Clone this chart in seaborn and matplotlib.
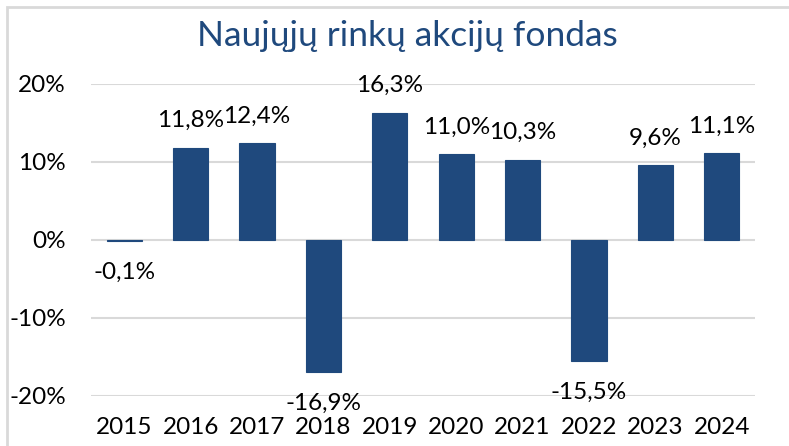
import matplotlib
matplotlib.use("Agg")
import matplotlib.pyplot as plt
from matplotlib.patches import Rectangle
import seaborn as sns
import pandas as pd

years = ['2015', '2016', '2017', '2018', '2019', '2020', '2021', '2022', '2023', '2024']
returns = [-0.1, 11.8, 12.4, -16.9, 16.3, 11.0, 10.3, -15.5, 9.6, 11.1]
y_ticks = [-20, -10, 0, 10, 20]
title = 'Naujųjų rinkų akcijų fondas'

bar_color = '#1F497D'
grid_color = '#D9D9D9'

sns.set_theme(style='white')
plt.rcParams['font.family'] = ['Lato', 'DejaVu Sans']

df = pd.DataFrame({'year': years, 'ret': returns})

fig = plt.figure(figsize=(7.89, 4.46), dpi=100)
ax = fig.add_axes([91/789, 1 - 396/446, (755 - 91)/789, (396 - 84)/446])

sns.barplot(data=df, x='year', y='ret', color=bar_color, saturation=1, width=0.53,
            edgecolor=bar_color, linewidth=0.8, ax=ax, zorder=3)

ax.set_ylim(-20, 20)
ax.set_xlim(-0.5, len(years) - 0.5)
ax.set_yticks(y_ticks)
ax.set_yticklabels([f'{t}%' for t in y_ticks])
for t in y_ticks:
    ax.axhline(t, color=grid_color, lw=1.5, zorder=1)
ax.set_xlabel('')
ax.set_ylabel('')
ax.tick_params(axis='both', length=0, labelsize=17.5, colors='black')
ax.tick_params(axis='x', pad=15)
ax.tick_params(axis='y', pad=18)
for s in ax.spines.values():
    s.set_visible(False)

# data labels with comma decimals
for i, v in enumerate(returns):
    txt = f'{v:.1f}%'.replace('.', ',')
    if v >= 0:
        ax.annotate(txt, (i, v), xytext=(0, 12), textcoords='offset points',
                    ha='center', va='bottom', fontsize=17.5, color='black')
    else:
        ax.annotate(txt, (i, v), xytext=(0, -15), textcoords='offset points',
                    ha='center', va='top', fontsize=17.5, color='black')

fig.text(407/789, 1 - 36/446, title, ha='center', va='center', fontsize=25.5, color=bar_color)

# light chart frame
fig.patches.append(Rectangle((7/789, -0.05), 1.1, 1.05 - 7/446, transform=fig.transFigure,
                             fill=False, edgecolor=grid_color, lw=2))

fig.savefig('out.png', dpi=100)
